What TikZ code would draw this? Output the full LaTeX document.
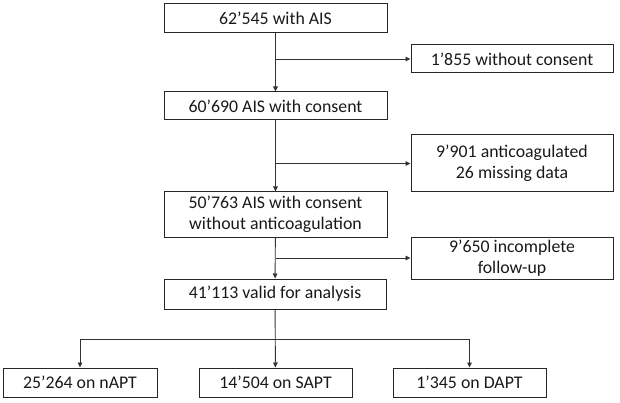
\documentclass[tikz,border=0pt]{standalone}
\usepackage{fontspec}
\setmainfont{Carlito}
\usetikzlibrary{arrows.meta}
\begin{document}
\begin{tikzpicture}[x=1pt,y=-1pt,
  box/.style={draw=black!85,line width=1pt,inner sep=0pt,align=center,
    font=\fontsize{17.8}{21}\selectfont,text=black!90},
  conn/.style={draw=black!80,line width=0.9pt},
  arr/.style={conn,-{Triangle[length=5pt,width=4.5pt]}}]
\useasboundingbox (0,0) rectangle (620,403);
\node[box,minimum width=223pt,minimum height=29pt] (b1) at (275.5,18.5) {62’545 with AIS};
\node[box,minimum width=202pt,minimum height=28pt] (x1) at (512,59) {1’855 without consent};
\node[box,minimum width=223pt,minimum height=28pt] (b2) at (275.5,106) {60’690 AIS with consent};
\node[box,minimum width=202pt,minimum height=57pt] (x2) at (512,163.5) {9’901 anticoagulated\\26 missing data};
\node[box,minimum width=223pt,minimum height=45pt] (b3) at (275.5,214.5) {50’763 AIS with consent\\without anticoagulation};
\node[box,minimum width=202pt,minimum height=42pt] (x3) at (512,258) {9’650 incomplete\\follow-up};
\node[box,minimum width=222pt,minimum height=30pt] (b4) at (275,294) {41’113 valid for analysis};
\node[box,minimum width=154pt,minimum height=29pt] (c1) at (80,382.5) {25’264 on nAPT};
\node[box,minimum width=153pt,minimum height=29pt] (c2) at (275.5,382.5) {14’504 on SAPT};
\node[box,minimum width=153pt,minimum height=29pt] (c3) at (469.5,382.5) {1’345 on DAPT};
\coordinate (split) at (275.5,339);
\draw[arr] (b1) -- (b2);
\draw[arr] (b2) -- (b3);
\draw[arr] (b3) -- (b4);
\draw[arr] (x1.west -| b1) -- (x1.west);
\draw[arr] (x2.west -| b1) -- (x2.west);
\draw[arr] (x3.west -| b1) -- (x3.west);
\draw[arr] (b4) -- (c2);
\draw[conn] (split -| c1) -- (split -| c3);
\draw[arr] (split -| c1) -- (c1.north);
\draw[arr] (split -| c3) -- (c3.north);
\end{tikzpicture}
\end{document}
